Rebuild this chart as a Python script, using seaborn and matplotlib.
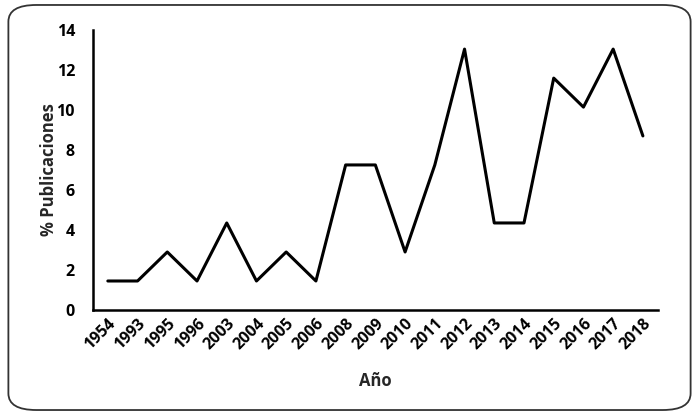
import matplotlib
matplotlib.use('Agg')
import matplotlib.pyplot as plt
import seaborn as sns
import pandas as pd
from matplotlib.patches import FancyBboxPatch

years = ['1954', '1993', '1995', '1996', '2003', '2004', '2005', '2006', '2008', '2009',
         '2010', '2011', '2012', '2013', '2014', '2015', '2016', '2017', '2018']
pct = [1.45, 1.45, 2.9, 1.45, 4.35, 1.45, 2.9, 1.45, 7.25, 7.25,
       2.9, 7.25, 13.04, 4.35, 4.35, 11.59, 10.14, 13.04, 8.7]

df = pd.DataFrame({'Año': years, 'pct': pct})

sns.set_style('white')
plt.rcParams['font.family'] = ['Open Sans', 'DejaVu Sans']
plt.rcParams['font.weight'] = 'bold'

fig = plt.figure(figsize=(6.99, 4.15), dpi=100)
ax = fig.add_axes([0.133, 0.253, 0.808, 0.675])

sns.lineplot(data=df, x='Año', y='pct', sort=False, color='black', linewidth=2.2, ax=ax)

ax.set_xlim(-0.5, len(years) - 0.5)
ax.set_ylim(0, 14)
ax.set_yticks(range(0, 15, 2))
ax.tick_params(axis='both', length=0, labelsize=11.5, colors='black')
ax.tick_params(axis='y', pad=13)
ax.tick_params(axis='x', pad=4)
for lab in ax.get_xticklabels():
    lab.set_rotation(45)
    lab.set_ha('right')
    lab.set_rotation_mode('anchor')
    lab.set_fontweight('bold')
for lab in ax.get_yticklabels():
    lab.set_fontweight('bold')

ax.set_xlabel('Año', fontsize=12, fontweight='bold')
ax.set_ylabel('% Publicaciones', fontsize=12, fontweight='bold')
ax.xaxis.set_label_coords(0.5, -0.22)
ax.yaxis.set_label_coords(-0.062, 0.5)

for s in ['top', 'right']:
    ax.spines[s].set_visible(False)
for s in ['left', 'bottom']:
    ax.spines[s].set_color('black')
    ax.spines[s].set_linewidth(1.8)

border = FancyBboxPatch((0.012, 0.012), 0.976, 0.976, boxstyle='round,pad=0,rounding_size=0.04',
                        transform=fig.transFigure, fill=False, edgecolor='#333333', linewidth=1.3)
fig.patches.append(border)

fig.savefig('out.png', dpi=100)
